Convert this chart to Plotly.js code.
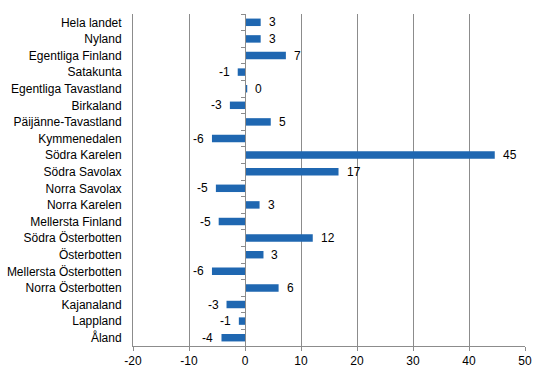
<!DOCTYPE html>
<html>
<head>
<meta charset="utf-8">
<script src="https://cdn.plot.ly/plotly-3.0.1.min.js"></script>
<style>html,body{margin:0;padding:0;background:#fff;}#chart{width:546px;height:376px;}</style>
</head>
<body>
<div id="chart"></div>
<script>
const categories = ["Hela landet","Nyland","Egentliga Finland","Satakunta","Egentliga Tavastland","Birkaland","Päijänne-Tavastland","Kymmenedalen","Södra Karelen","Södra Savolax","Norra Savolax","Norra Karelen","Mellersta Finland","Södra Österbotten","Österbotten","Mellersta Österbotten","Norra Österbotten","Kajanaland","Lappland","Åland"];
const values = [2.8, 2.8, 7.3, -1.3, 0.4, -2.7, 4.6, -5.9, 44.6, 16.7, -5.2, 2.6, -4.7, 12.1, 3.3, -5.9, 6.0, -3.3, -1.1, -4.2];
const labels = ["3","3","7","-1","0","-3","5","-6","45","17","-5","3","-5","12","3","-6","6","-3","-1","-4"];
const xTicks = [-20,-10,0,10,20,30,40,50];

const font = {family:"Liberation Sans, Arial, sans-serif", size:12, color:"#000"};
const grey = "#8c8c8c";
const yRange = [categories.length - 0.5, -0.5];

const traces = [
  {type:"bar", orientation:"h", x:values, y:categories, marker:{color:"#1f67b1"}, hoverinfo:"skip", showlegend:false},
  {type:"scatter", mode:"none", x:values, y:categories, yaxis:"y2", hoverinfo:"skip", showlegend:false}
];

const annotations = values.map((v,i)=>({
  x: v, y: categories[i], xref:"x", yref:"y", text: labels[i], showarrow:false,
  xanchor: v >= 0 ? "left" : "right", xshift: v >= 0 ? 6 : -6, font: font
}));

const layout = {
  width:546, height:376,
  margin:{l:133, r:21, t:14, b:30},
  paper_bgcolor:"#fff", plot_bgcolor:"#fff",
  font: font,
  bargap:0.55,
  xaxis:{range:[-20,50], tickvals:xTicks, ticktext:xTicks.map(String), showgrid:true, gridcolor:grey, gridwidth:1,
         zeroline:false, showline:true, linecolor:grey, ticks:"outside", ticklen:4, tickcolor:grey, tickfont:font},
  yaxis:{type:"category", categoryarray:categories, range:yRange, autorange:false, showgrid:false, zeroline:false,
         showline:true, linecolor:grey, ticks:"", tickfont:font, ticklabelstandoff:8},
  yaxis2:{type:"category", categoryarray:categories, overlaying:"y", range:yRange, autorange:false, anchor:"free", position:(0-(-20))/70,
          side:"left", showgrid:false, zeroline:false, showline:true, linecolor:grey, ticks:"outside", ticklen:4,
          tickcolor:grey, tickson:"boundaries", showticklabels:false},
  annotations: annotations
};

Plotly.newPlot("chart", traces, layout, {displayModeBar:false, staticPlot:true});
</script>
</body>
</html>
